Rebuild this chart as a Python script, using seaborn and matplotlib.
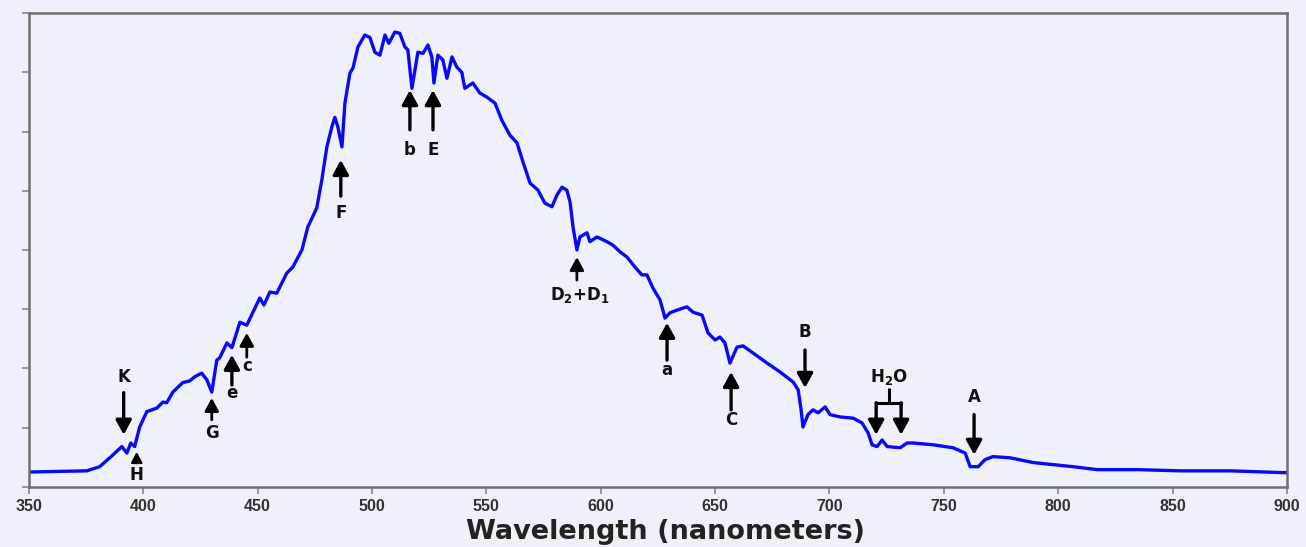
import matplotlib
matplotlib.use("Agg")
import matplotlib.pyplot as plt
import seaborn as sns

# ------------------ spectrum data ------------------
wavelength = [
    350, 375.4, 381.0, 385.4, 390.7, 392.9, 394.6, 396.3, 398.5, 401.6,
    406.0, 408.6, 410.3, 413.0, 417.3, 420.4, 422.6, 425.6, 427.8, 430.0,
    432.2, 433.5, 436.6, 438.8, 442.3, 445.3, 447.9, 451.0, 452.8, 455.4,
    458.4, 462.8, 465.4, 469.4, 472.0, 475.9, 478.1, 480.3, 482.5, 483.8,
    485.1, 486.9, 488.2, 490.4, 491.7, 493.9, 496.9, 499.1, 501.3, 503.5,
    505.7, 507.4, 510.0, 512.2, 514.4, 515.7, 517.5, 520.1, 522.3, 524.5,
    526.2, 527.1, 528.8, 531.0, 532.8, 535.0, 537.1, 539.3, 540.6, 544.1,
    547.2, 550.3, 553.8, 556.8, 560.3, 563.4, 566.0, 569.1, 572.6, 575.6,
    578.7, 580.9, 583.1, 585.2, 586.6, 587.9, 589.6, 590.9, 594.0, 595.3,
    598.4, 602.7, 605.4, 608.4, 611.5, 615.0, 618.0, 620.2, 622.8, 625.9,
    628.1, 630.3, 633.8, 637.7, 640.3, 644.3, 646.9, 650.0, 652.1, 654.3,
    656.5, 659.6, 662.2, 666.6, 672.7, 678.4, 684.1, 686.3, 687.6, 688.4,
    690.6, 692.8, 695.0, 698.1, 700.2, 704.6, 710.3, 714.2, 716.9, 718.6,
    720.8, 723.0, 725.2, 730.9, 733.9, 736.5, 745.3, 754.0, 759.3, 761.5,
    765.0, 768.0, 771.5, 779.0, 789.0, 806.5, 817.0, 835.0, 853.3, 875.0,
    898.3, 900,
]
intensity = [
    0.25, 0.27, 0.34, 0.49, 0.68, 0.57, 0.74, 0.68, 1.01, 1.27,
    1.33, 1.43, 1.42, 1.60, 1.76, 1.79, 1.86, 1.92, 1.81, 1.60,
    2.14, 2.18, 2.43, 2.35, 2.78, 2.73, 2.94, 3.19, 3.07, 3.29,
    3.27, 3.61, 3.71, 4.00, 4.39, 4.71, 5.18, 5.74, 6.08, 6.24,
    6.08, 5.74, 6.48, 6.99, 7.07, 7.43, 7.63, 7.59, 7.34, 7.29,
    7.63, 7.49, 7.68, 7.66, 7.43, 7.38, 6.73, 7.34, 7.32, 7.46,
    7.26, 6.82, 7.29, 7.21, 6.90, 7.26, 7.09, 7.00, 6.73, 6.82,
    6.65, 6.58, 6.48, 6.19, 5.94, 5.81, 5.49, 5.13, 5.01, 4.79,
    4.73, 4.93, 5.06, 5.01, 4.81, 4.39, 4.00, 4.22, 4.29, 4.14,
    4.22, 4.14, 4.08, 3.97, 3.88, 3.71, 3.58, 3.58, 3.36, 3.16,
    2.85, 2.94, 2.99, 3.04, 2.95, 2.90, 2.60, 2.48, 2.53, 2.43,
    2.09, 2.36, 2.38, 2.26, 2.09, 1.94, 1.77, 1.64, 1.30, 1.01,
    1.22, 1.30, 1.25, 1.35, 1.22, 1.18, 1.16, 1.08, 0.91, 0.71,
    0.68, 0.79, 0.68, 0.66, 0.74, 0.74, 0.71, 0.66, 0.57, 0.34,
    0.34, 0.46, 0.51, 0.49, 0.41, 0.34, 0.29, 0.29, 0.27, 0.27,
    0.24, 0.24,
]

x_ticks = [350, 400, 450, 500, 550, 600, 650, 700, 750, 800, 850, 900]

# Fraunhofer line labels: (text, wavelength, arrow tip, arrow tail, label y, size)
line_labels = [
    ("K", 391.5, 0.88, 1.59, 1.86, "big"),
    ("H", 397.2, 0.59, 0.40, 0.20, "small"),
    ("G", 430.0, 1.50, 1.13, 0.91, "mid"),
    ("e", 438.8, 2.23, 1.72, 1.59, "big"),
    ("c", 445.3, 2.60, 2.19, 2.04, "mid"),
    ("F", 486.4, 5.52, 4.91, 4.62, "big"),
    ("b", 516.6, 6.70, 6.03, 5.69, "big"),
    ("E", 526.7, 6.70, 6.03, 5.69, "big"),
    ("D$_2$+D$_1$", 589.6, 3.88, 3.49, 3.24, "mid"),
    ("a", 629.0, 2.77, 2.14, 1.97, "big"),
    ("C", 657.0, 1.94, 1.30, 1.13, "big"),
    ("B", 689.3, 1.67, 2.31, 2.62, "big"),
    ("A", 763.2, 0.54, 1.22, 1.52, "big"),
]
h2o_lines = [720.4, 731.3]

# ------------------ plot ------------------
sns.set_style("ticks")
plt.rcParams["font.family"] = ["DejaVu Sans"]
plt.rcParams["mathtext.default"] = "bf"

BG = "#eef1fa"
fig, ax = plt.subplots(figsize=(13.06, 5.47), dpi=100)
fig.patch.set_facecolor(BG)
ax.set_facecolor(BG)
fig.subplots_adjust(left=0.022, right=0.9855, bottom=0.11, top=0.976)

sns.lineplot(x=wavelength, y=intensity, color="#0a0af2", lw=2.4, ax=ax)

arrow_sizes = {
    "big": dict(lw=2.4, hw=0.34, hl=0.62),
    "mid": dict(lw=2.0, hw=0.30, hl=0.55),
    "small": dict(lw=1.6, hw=0.24, hl=0.45),
}


def arrow(x, tip, tail, size="big"):
    s = arrow_sizes[size]
    ax.annotate("", xy=(x, tip), xytext=(x, tail),
                arrowprops=dict(arrowstyle=f"-|>,head_width={s['hw']},head_length={s['hl']}",
                                lw=s["lw"], color="black", shrinkA=0, shrinkB=0,
                                mutation_scale=14))


for text, x, tip, tail, ly, size in line_labels:
    arrow(x, tip, tail, size)
    lx = x + 1.5 if text.startswith("D") else x
    ax.text(lx, ly, text, ha="center", va="center", fontsize=12,
            fontweight="bold", color="#111111")

# H2O bracket
mid = sum(h2o_lines) / 2
ax.text(mid, 1.86, "H$_2$O", ha="center", va="center", fontsize=12,
        fontweight="bold", color="#111111")
ax.plot([mid, mid], [1.67, 1.42], color="black", lw=2.2, solid_capstyle="butt")
ax.plot(h2o_lines, [1.42, 1.42], color="black", lw=2.2, solid_capstyle="projecting")
for x in h2o_lines:
    arrow(x, 0.88, 1.42, "big")

ax.set_xlim(350, 900)
ax.set_ylim(0, 8)
ax.set_xticks(x_ticks)
ax.set_yticks(range(9))
ax.set_yticklabels([])
ax.set_xticklabels([str(t) for t in x_ticks], fontsize=11.5, fontweight="bold",
                   color="#333333", family="Liberation Sans")
ax.tick_params(axis="both", direction="out", length=5, width=1.2, color="#888888", pad=4)
for sp in ax.spines.values():
    sp.set_color("#707070")
    sp.set_linewidth(1.8)
ax.set_xlabel("Wavelength (nanometers)", fontsize=19.5, fontweight="bold",
              color="#222222", labelpad=2)
ax.xaxis.set_label_coords(0.506, -0.068, transform=ax.transAxes)
ax.xaxis.label.set_va("top")
ax.set_ylabel("")

plt.savefig("out.png", dpi=100, facecolor=BG)
plt.close()
